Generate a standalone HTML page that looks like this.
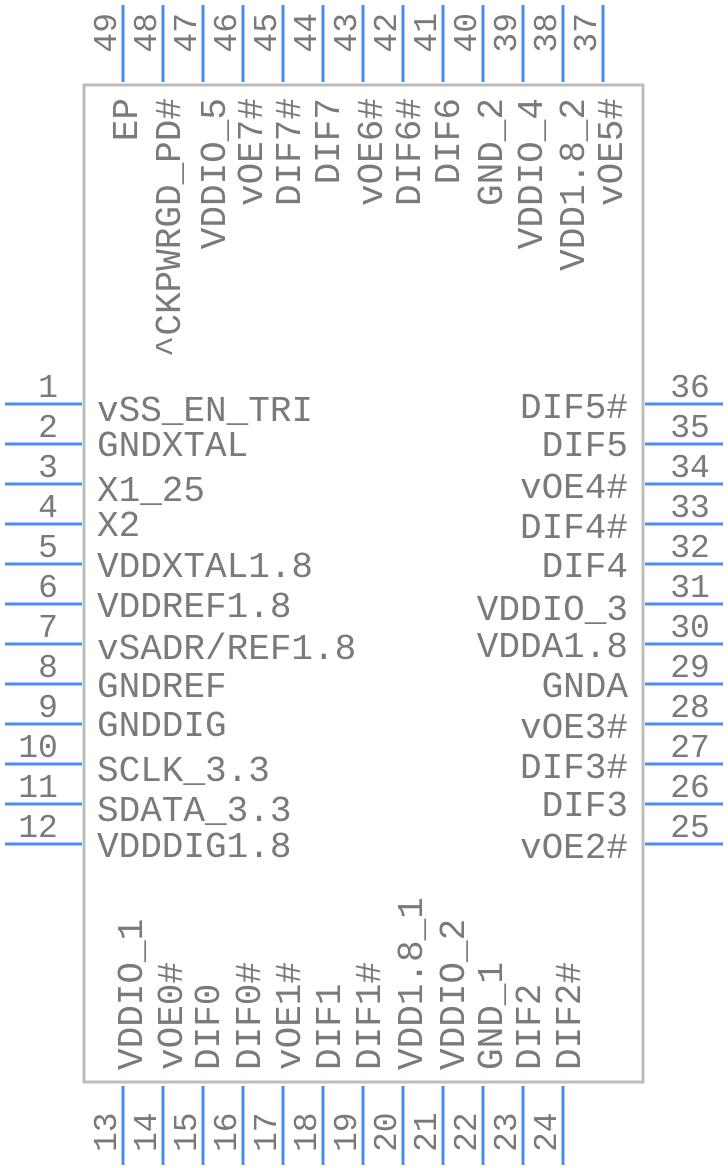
<!DOCTYPE html>
<html><head><style>
html,body{margin:0;padding:0;background:#fff;}
svg{display:block;}
text{font-family:"Liberation Mono",monospace;fill:#7a7a7a;}
.l{font-size:36px;}
.n{font-size:33px;}
</style></head><body>
<svg width="728" height="1168" viewBox="0 0 728 1168" xmlns="http://www.w3.org/2000/svg">
<rect x="84" y="85" width="559" height="997" fill="none" stroke="#bdbdbd" stroke-width="3"/>
<g stroke="#4a8cf0" stroke-width="3">
<line x1="5" y1="404" x2="82" y2="404"/><line x1="5" y1="444" x2="82" y2="444"/><line x1="5" y1="484" x2="82" y2="484"/><line x1="5" y1="524" x2="82" y2="524"/><line x1="5" y1="564" x2="82" y2="564"/><line x1="5" y1="604" x2="82" y2="604"/><line x1="5" y1="644" x2="82" y2="644"/><line x1="5" y1="684" x2="82" y2="684"/><line x1="5" y1="724" x2="82" y2="724"/><line x1="5" y1="764" x2="82" y2="764"/><line x1="5" y1="804" x2="82" y2="804"/><line x1="5" y1="844" x2="82" y2="844"/>
<line x1="645" y1="404" x2="723" y2="404"/><line x1="645" y1="444" x2="723" y2="444"/><line x1="645" y1="484" x2="723" y2="484"/><line x1="645" y1="524" x2="723" y2="524"/><line x1="645" y1="564" x2="723" y2="564"/><line x1="645" y1="604" x2="723" y2="604"/><line x1="645" y1="644" x2="723" y2="644"/><line x1="645" y1="684" x2="723" y2="684"/><line x1="645" y1="724" x2="723" y2="724"/><line x1="645" y1="764" x2="723" y2="764"/><line x1="645" y1="804" x2="723" y2="804"/><line x1="645" y1="844" x2="723" y2="844"/>
<line x1="123" y1="5" x2="123" y2="82"/><line x1="163" y1="5" x2="163" y2="82"/><line x1="203" y1="5" x2="203" y2="82"/><line x1="243" y1="5" x2="243" y2="82"/><line x1="283" y1="5" x2="283" y2="82"/><line x1="323" y1="5" x2="323" y2="82"/><line x1="363" y1="5" x2="363" y2="82"/><line x1="403" y1="5" x2="403" y2="82"/><line x1="443" y1="5" x2="443" y2="82"/><line x1="483" y1="5" x2="483" y2="82"/><line x1="523" y1="5" x2="523" y2="82"/><line x1="563" y1="5" x2="563" y2="82"/><line x1="603" y1="5" x2="603" y2="82"/>
<line x1="123" y1="1086" x2="123" y2="1165"/><line x1="163" y1="1086" x2="163" y2="1165"/><line x1="203" y1="1086" x2="203" y2="1165"/><line x1="243" y1="1086" x2="243" y2="1165"/><line x1="283" y1="1086" x2="283" y2="1165"/><line x1="323" y1="1086" x2="323" y2="1165"/><line x1="363" y1="1086" x2="363" y2="1165"/><line x1="403" y1="1086" x2="403" y2="1165"/><line x1="443" y1="1086" x2="443" y2="1165"/><line x1="483" y1="1086" x2="483" y2="1165"/><line x1="523" y1="1086" x2="523" y2="1165"/><line x1="563" y1="1086" x2="563" y2="1165"/>
</g>
<g class="n" text-anchor="middle">
<text x="48" y="397">1</text><text x="48" y="437">2</text><text x="48" y="477">3</text><text x="48" y="517">4</text><text x="48" y="557">5</text><text x="48" y="597">6</text><text x="48" y="637">7</text><text x="48" y="677">8</text><text x="48" y="717">9</text><text x="38" y="757">10</text><text x="38" y="797">11</text><text x="38" y="837">12</text>
<text x="690" y="397">36</text><text x="690" y="437">35</text><text x="690" y="477">34</text><text x="690" y="517">33</text><text x="690" y="557">32</text><text x="690" y="597">31</text><text x="690" y="637">30</text><text x="690" y="677">29</text><text x="690" y="717">28</text><text x="690" y="757">27</text><text x="690" y="797">26</text><text x="690" y="837">25</text>
</g>
<g class="l">
<text x="97" y="421">vSS_EN_TRI</text><text x="97" y="456">GNDXTAL</text><text x="97" y="501">X1_25</text><text x="97" y="536">X2</text><text x="97" y="577">VDDXTAL1.8</text><text x="97" y="617">VDDREF1.8</text><text x="97" y="659">vSADR/REF1.8</text><text x="97" y="697">GNDREF</text><text x="97" y="736">GNDDIG</text><text x="97" y="781">SCLK_3.3</text><text x="97" y="821">SDATA_3.3</text><text x="97" y="857">VDDDIG1.8</text>
</g>
<g class="l" text-anchor="end">
<text x="628" y="418">DIF5#</text><text x="628" y="456">DIF5</text><text x="628" y="498">vOE4#</text><text x="628" y="538">DIF4#</text><text x="628" y="577">DIF4</text><text x="628" y="620">VDDIO_3</text><text x="628" y="657">VDDA1.8</text><text x="628" y="697">GNDA</text><text x="628" y="738">vOE3#</text><text x="628" y="778">DIF3#</text><text x="628" y="816">DIF3</text><text x="628" y="858">vOE2#</text>
</g>
<g class="n" text-anchor="end">
<text transform="translate(116,13) rotate(-90)">49</text><text transform="translate(156,13) rotate(-90)">48</text><text transform="translate(196,13) rotate(-90)">47</text><text transform="translate(236,13) rotate(-90)">46</text><text transform="translate(276,13) rotate(-90)">45</text><text transform="translate(316,13) rotate(-90)">44</text><text transform="translate(356,13) rotate(-90)">43</text><text transform="translate(396,13) rotate(-90)">42</text><text transform="translate(436,13) rotate(-90)">41</text><text transform="translate(476,13) rotate(-90)">40</text><text transform="translate(516,13) rotate(-90)">39</text><text transform="translate(556,13) rotate(-90)">38</text><text transform="translate(596,13) rotate(-90)">37</text>
</g>
<g class="n" text-anchor="start">
<text transform="translate(116,1152) rotate(-90)">13</text><text transform="translate(156,1152) rotate(-90)">14</text><text transform="translate(196,1152) rotate(-90)">15</text><text transform="translate(236,1152) rotate(-90)">16</text><text transform="translate(276,1152) rotate(-90)">17</text><text transform="translate(316,1152) rotate(-90)">18</text><text transform="translate(356,1152) rotate(-90)">19</text><text transform="translate(396,1152) rotate(-90)">20</text><text transform="translate(436,1152) rotate(-90)">21</text><text transform="translate(476,1152) rotate(-90)">22</text><text transform="translate(516,1152) rotate(-90)">23</text><text transform="translate(556,1152) rotate(-90)">24</text>
</g>
<g class="l" text-anchor="end">
<text transform="translate(137,98) rotate(-90)">EP</text><text transform="translate(180,98) rotate(-90)">^CKPWRGD_PD#</text><text transform="translate(225,98) rotate(-90)">VDDIO_5</text><text transform="translate(262,98) rotate(-90)">vOE7#</text><text transform="translate(300,98) rotate(-90)">DIF7#</text><text transform="translate(339,98) rotate(-90)">DIF7</text><text transform="translate(382,98) rotate(-90)">vOE6#</text><text transform="translate(420,98) rotate(-90)">DIF6#</text><text transform="translate(459,98) rotate(-90)">DIF6</text><text transform="translate(502,98) rotate(-90)">GND_2</text><text transform="translate(542,98) rotate(-90)">VDDIO_4</text><text transform="translate(584,98) rotate(-90)">VDD1.8_2</text><text transform="translate(622,98) rotate(-90)">vOE5#</text>
</g>
<g class="l" text-anchor="start">
<text transform="translate(142,1070) rotate(-90)">VDDIO_1</text><text transform="translate(182,1070) rotate(-90)">vOE0#</text><text transform="translate(219,1070) rotate(-90)">DIF0</text><text transform="translate(260,1070) rotate(-90)">DIF0#</text><text transform="translate(300,1070) rotate(-90)">vOE1#</text><text transform="translate(340,1070) rotate(-90)">DIF1</text><text transform="translate(380,1070) rotate(-90)">DIF1#</text><text transform="translate(422,1070) rotate(-90)">VDD1.8_1</text><text transform="translate(464,1070) rotate(-90)">VDDIO_2</text><text transform="translate(502,1070) rotate(-90)">GND_1</text><text transform="translate(540,1070) rotate(-90)">DIF2</text><text transform="translate(580,1070) rotate(-90)">DIF2#</text>
</g>
</svg>
</body></html>
